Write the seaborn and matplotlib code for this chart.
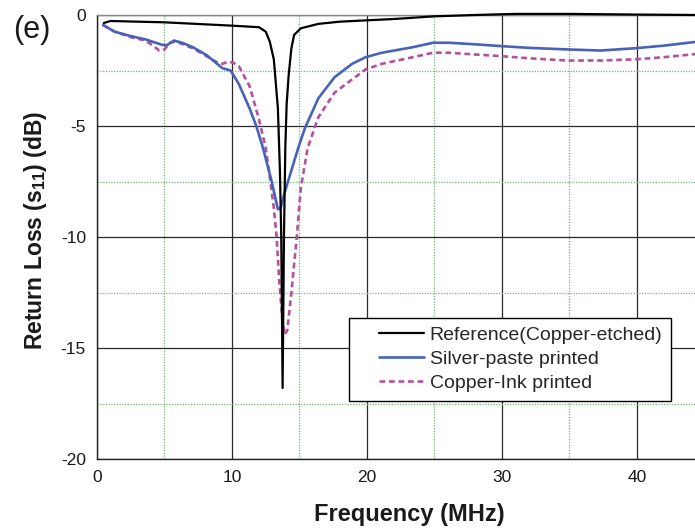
import numpy as np
import pandas as pd
import matplotlib
matplotlib.use("Agg")
import matplotlib.pyplot as plt
from matplotlib.legend_handler import HandlerLine2D
from matplotlib.ticker import MultipleLocator
import seaborn as sns

# ---- data ----
ref_freq = [0.5, 1.0, 3.0, 5.0, 8.0, 10.0, 12.0, 12.5, 12.8, 13.1, 13.4, 13.55, 13.65,
            13.75, 13.85, 13.95, 14.05, 14.2, 14.4, 14.6, 15.1, 16.4, 18.0, 20.0, 22.0,
            25.0, 28.0, 31.0, 35.0, 40.0, 44.5]
ref_s11 = [-0.36, -0.27, -0.30, -0.33, -0.42, -0.48, -0.55, -0.75, -1.2, -2.0, -4.2, -7.0, -10.0,
           -16.8, -10.0, -6.0, -4.0, -2.7, -1.5, -0.9, -0.6, -0.4, -0.3, -0.24, -0.18,
           -0.06, 0.0, 0.05, 0.05, 0.02, 0.0]

silver_freq = [0.45, 1.3, 2.5, 3.6, 4.85, 5.2, 5.7, 6.3, 7.1, 8.1, 9.3, 9.9, 10.5, 11.3,
               11.8, 12.3, 12.9, 13.4, 13.6, 13.9, 14.4, 14.9, 15.4, 16.4, 17.6, 18.9,
               19.9, 21.1, 23.4, 24.9, 26.1, 28.0, 29.9, 32.0, 34.8, 37.3, 39.8, 42.0, 44.5]
silver_s11 = [-0.45, -0.75, -0.95, -1.1, -1.35, -1.35, -1.15, -1.25, -1.45, -1.8, -2.4, -2.5,
              -3.1, -4.2, -5.0, -6.0, -7.4, -8.75, -8.7, -8.0, -7.0, -6.0, -5.1, -3.75, -2.8,
              -2.2, -1.9, -1.7, -1.45, -1.25, -1.25, -1.32, -1.4, -1.48, -1.55, -1.6, -1.5,
              -1.38, -1.2]

copper_freq = [0.45, 1.3, 2.5, 3.6, 4.2, 4.6, 5.0, 5.4, 5.8, 6.3, 7.1, 8.1, 8.8, 9.3, 9.7,
               10.1, 10.5, 11.3, 12.0, 12.5, 12.8, 13.1, 13.3, 13.5, 13.75, 13.9, 14.1, 14.4,
               14.8, 15.1, 15.6, 16.4, 17.6, 18.9, 19.9, 21.1, 23.4, 24.9, 26.1, 28.0, 29.9,
               32.0, 34.8, 37.3, 39.8, 42.0, 44.5]
copper_s11 = [-0.45, -0.75, -1.0, -1.15, -1.4, -1.6, -1.55, -1.25, -1.2, -1.3, -1.5, -1.85,
              -2.1, -2.2, -2.1, -2.15, -2.3, -3.2, -4.7, -6.0, -7.3, -8.7, -9.95, -12.0,
              -13.8, -14.4, -14.2, -12.5, -10.0, -7.8, -6.0, -4.6, -3.5, -2.9, -2.45, -2.2,
              -1.9, -1.7, -1.7, -1.78, -1.85, -1.95, -2.05, -2.05, -2.0, -1.9, -1.75]

labels = ["Reference(Copper-etched)", "Silver-paste printed", "Copper-Ink printed"]
x_ticks = [0, 10, 20, 30, 40]
y_ticks = [-20, -15, -10, -5, 0]

# ---- style ----
sns.set_theme(style="white")
plt.rcParams["font.family"] = ["Liberation Sans", "DejaVu Sans"]
plt.rcParams["axes.unicode_minus"] = False
plt.rcParams["mathtext.fontset"] = "custom"
plt.rcParams["mathtext.rm"] = "Liberation Sans"
plt.rcParams["mathtext.bf"] = "Liberation Sans:bold"

fig = plt.figure(figsize=(6.95, 5.29), dpi=100)
ax = fig.add_axes([97 / 695, 1 - 459 / 529, 1 - 97 / 695, 444 / 529])

ax.grid(which="major", color="#2a2a2a", linestyle="-", linewidth=0.9, zorder=0)
ax.grid(which="minor", color="#72b872", linestyle=(0, (1, 1.2)), linewidth=0.9, zorder=0)
ax.set_axisbelow(True)

df_ref = pd.DataFrame({"f": ref_freq, "s": ref_s11})
df_sil = pd.DataFrame({"f": silver_freq, "s": silver_s11})
df_cu = pd.DataFrame({"f": copper_freq, "s": copper_s11})

sns.lineplot(data=df_ref, x="f", y="s", ax=ax, color="black", linewidth=1.6,
             estimator=None, sort=False, label=labels[0], clip_on=False, zorder=5)
sns.lineplot(data=df_sil, x="f", y="s", ax=ax, color="#4762b8", linewidth=1.9,
             estimator=None, sort=False, label=labels[1], zorder=4)
sns.lineplot(data=df_cu, x="f", y="s", ax=ax, color="#b5509e", linewidth=1.9,
             estimator=None, sort=False, label=labels[2], zorder=3,
             dashes=False)
ax.lines[-1].set_linestyle((0, (2.2, 1.4)))

ax.set_xlim(0, 44.3)
ax.set_ylim(-20, 0)
ax.set_xticks(x_ticks)
ax.set_yticks(y_ticks)
ax.xaxis.set_minor_locator(MultipleLocator(5))
ax.yaxis.set_minor_locator(MultipleLocator(2.5))
ax.tick_params(axis="both", which="both", direction="in", length=5, width=1,
               color="black", labelsize=12.5, labelcolor="#1a1a1a")
ax.tick_params(axis="x", which="major", pad=8)
ax.tick_params(axis="y", which="major", pad=8)
ax.tick_params(top=False, right=False, which="both")

for side in ["left", "bottom"]:
    ax.spines[side].set_color("#222222")
    ax.spines[side].set_linewidth(1.0)
ax.spines["top"].set_color("#888888")
ax.spines["top"].set_linewidth(1.0)
ax.spines["right"].set_visible(False)

ax.set_xlabel("Frequency (MHz)", fontsize=17, fontweight="bold", color="#1a1a1a")
ax.set_ylabel(r"Return Loss (s$_{\mathbf{11}}$) (dB)", fontsize=16.5, fontweight="bold",
              color="#1a1a1a")
ax.xaxis.set_label_coords(0.523, -0.098)
ax.yaxis.set_label_coords(-0.080, 0.516)


class ShortHandle(HandlerLine2D):
    def get_xdata(self, legend, xdescent, ydescent, width, height, fontsize):
        x0 = -xdescent + width * 0.33
        x1 = -xdescent + width
        return np.array([x0, x1]), np.array([x0, x1])


handles = ax.lines[:3]
leg = ax.legend(handles=handles, labels=labels, loc="lower right",
                bbox_to_anchor=(0.960, 0.131), borderaxespad=0, fontsize=14,
                frameon=True, fancybox=False, framealpha=1, edgecolor="black",
                handlelength=3.4, handletextpad=0.3, labelspacing=0.33, borderpad=0.45,
                handler_map={l: ShortHandle() for l in handles})
leg.get_frame().set_linewidth(1.0)

fig.text(32 / 695, 1 - 30 / 529, "(e)", fontsize=22, ha="center", va="center",
         color="#1a1a1a")

fig.savefig("out.png", dpi=100)
